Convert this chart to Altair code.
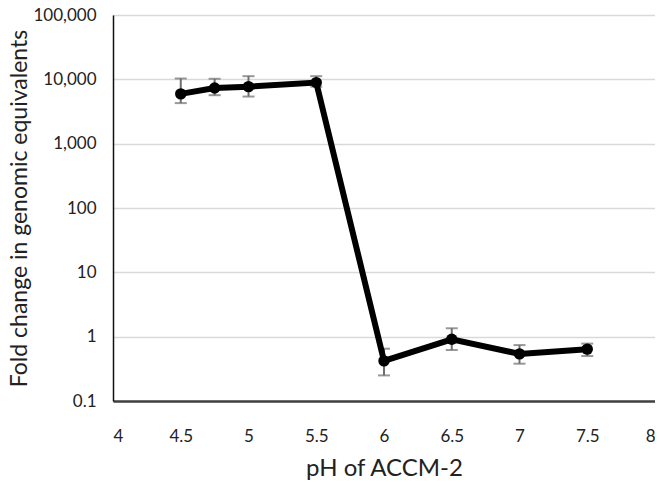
import altair as alt
import pandas as pd

ph = [4.5, 4.75, 5.0, 5.5, 6.0, 6.5, 7.0, 7.5]
fold = [5940, 7350, 7700, 8900, 0.42, 0.91, 0.54, 0.64]
err_hi = [10300, 10200, 11200, 11200, 0.65, 1.35, 0.74, 0.78]
err_lo = [4270, 5670, 5400, 7700, 0.25, 0.62, 0.38, 0.50]

x_ticks = [4, 4.5, 5, 5.5, 6, 6.5, 7, 7.5, 8]
y_ticks = [0.1, 1, 10, 100, 1000, 10000, 100000]

df = pd.DataFrame({"ph": ph, "fold": fold, "hi": err_hi, "lo": err_lo})

FONT = "Lato"

x = alt.X("ph:Q", scale=alt.Scale(domain=[4, 8], nice=False),
          axis=alt.Axis(values=x_ticks, format="~g", title="pH of ACCM-2", grid=False, ticks=False,
                        labelFontSize=17, titleFontSize=24, labelPadding=27, titlePadding=12,
                        domainColor="#404040", domainWidth=2.5, labelColor="#222",
                        titleColor="#222", titleFontWeight="normal", labelFont=FONT, titleFont=FONT))
y = alt.Y("fold:Q", scale=alt.Scale(type="log", domain=[0.1, 100000], nice=False),
          axis=alt.Axis(values=y_ticks, format=",", title="Fold change in genomic equivalents",
                        grid=True, gridColor="#d9d9d9", gridWidth=1.5, ticks=False,
                        labelFontSize=17, titleFontSize=23, labelPadding=17, titlePadding=1,
                        domainColor="#111", domainWidth=1.5, labelColor="#222",
                        titleColor="#222", titleFontWeight="normal", labelFont=FONT, titleFont=FONT))

base = alt.Chart(df)
rules = base.mark_rule(color="#6e6e6e", strokeWidth=2).encode(x=x, y=alt.Y("lo:Q"), y2="hi:Q")
caps_hi = base.mark_tick(color="#6e6e6e", thickness=2, size=12, orient="horizontal").encode(x=x, y=alt.Y("hi:Q"))
caps_lo = base.mark_tick(color="#6e6e6e", thickness=2, size=12, orient="horizontal").encode(x=x, y=alt.Y("lo:Q"))
line = base.mark_line(color="black", strokeWidth=6).encode(x=x, y=y)
pts = base.mark_circle(color="black", size=130, opacity=1).encode(x=x, y=y)

chart = alt.layer(rules, caps_hi, caps_lo, line, pts).properties(
    width=542, height=386,
    autosize=alt.AutoSizeParams(type="none"),
    padding={"left": 105, "top": 7, "right": 0, "bottom": 80},
).configure_view(stroke=None).configure(background="white")

chart.save("out.html", embed_options={"renderer": "svg", "actions": False})
